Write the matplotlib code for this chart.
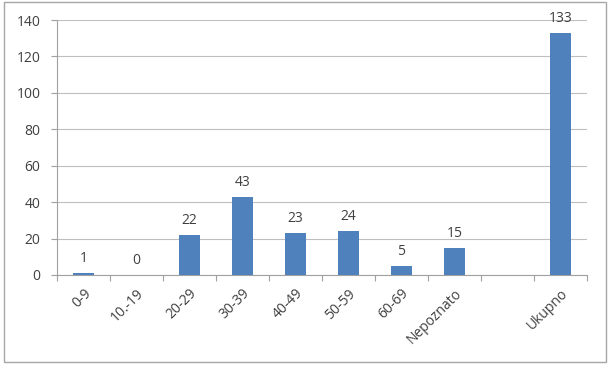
import matplotlib
matplotlib.use("Agg")
import matplotlib.pyplot as plt
import numpy as np
from matplotlib.patches import Rectangle

categories = ["0-9", "10.-19", "20-29", "30-39", "40-49", "50-59", "60-69", "Nepoznato", "", "Ukupno"]
values = [1, 0, 22, 43, 23, 24, 5, 15, None, 133]
yticks = [0, 20, 40, 60, 80, 100, 120, 140]

plt.rcParams['font.family'] = ['Open Sans', 'DejaVu Sans']
fs = 10
fig = plt.figure(figsize=(6.11, 3.71), dpi=100)
ax = fig.add_axes([57/611, 1-275/371, 530/611, 255/371])

x = np.arange(len(categories))
vals = [np.nan if v is None else v for v in values]
ax.bar(x, vals, width=0.4, color="#4F81BD", zorder=3)
for xi, v in zip(x, values):
    if v is not None:
        ax.annotate(str(v), (xi, v), xytext=(0, 5), textcoords="offset points",
                    ha="center", va="bottom", fontsize=fs, color="#404040")

ax.set_xlim(-0.5, len(categories) - 0.5)
ax.set_ylim(0, 140)
ax.set_yticks(yticks)
ax.set_yticklabels([str(t) for t in yticks], fontsize=fs, color="#404040")
ax.yaxis.grid(True, color="#BFBFBF", linewidth=0.8, zorder=0)
ax.set_xticks(np.arange(-0.5, len(categories), 1.0), minor=False)
ax.set_xticklabels([])
ax.set_xticks(x, minor=True)
ax.set_xticklabels(categories, minor=True, rotation=45, ha="right", rotation_mode="anchor", fontsize=fs, color="#404040")
ax.tick_params(axis="x", which="minor", length=0, pad=8)
ax.tick_params(axis="x", which="major", length=4, color="#A0A0A0", direction="out")
ax.tick_params(axis="y", length=4, color="#A0A0A0", direction="out", pad=8)
for s in ["top", "right"]:
    ax.spines[s].set_visible(False)
for s in ["left", "bottom"]:
    ax.spines[s].set_color("#A0A0A0")
    ax.spines[s].set_linewidth(0.8)

fig.patches.append(Rectangle((4/611, 1-362/371), 602/611, 360/371, transform=fig.transFigure,
                             fill=False, edgecolor="#A6A6A6", linewidth=1.0))
fig.savefig("out.png", dpi=100)
